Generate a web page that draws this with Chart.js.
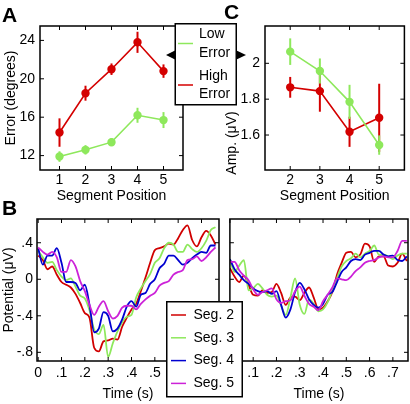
<!DOCTYPE html>
<html><head><meta charset="utf-8">
<script src="https://cdn.jsdelivr.net/npm/chart.js@4.4.1/dist/chart.umd.min.js"></script>
<style>
html,body{margin:0;padding:0;background:#fff;width:410px;height:404px;overflow:hidden}
canvas{position:absolute}
</style></head><body>
<canvas id="cA" width="190" height="206" style="left:0;top:0"></canvas>
<canvas id="cC" width="190" height="206" style="left:220px;top:0"></canvas>
<canvas id="cBL" width="222" height="204" style="left:0;top:200px"></canvas>
<canvas id="cBR" width="188" height="204" style="left:222px;top:200px"></canvas>
<canvas id="ov" width="410" height="404" style="left:0;top:0;pointer-events:none"></canvas>
<script>
// ---------- Panel A : error vs segment position ----------
const segA = [1, 2, 3, 4, 5];
const lowA = [11.9, 12.6, 13.4, 16.2, 15.7];
const lowAErr = [0.55, 0.49, 0.43, 0.78, 0.83];
const highA = [14.4, 18.5, 21.0, 23.8, 20.8];
const highAErr = [1.48, 0.78, 0.6, 1.1, 0.7];
const yTicksA = [12, 16, 20, 24];
const groupLabels = ['Low Error', 'High Error'];

// ---------- Panel C : amplitude vs segment position ----------
const segC = [2, 3, 4, 5];
const lowC = [2.065, 1.957, 1.785, 1.544];
const lowCErr = [0.074, 0.07, 0.095, 0.054];
const highC = [1.866, 1.845, 1.618, 1.696];
const highCErr = [0.058, 0.115, 0.084, 0.19];
const yTicksC = [1.6, 1.8, 2];
const yTickLabelsC = ['1.6', '1.8', '2'];

// ---------- Panel B : waveforms ----------
const tB = [0,0.02,0.04,0.06,0.08,0.10,0.12,0.14,0.16,0.18,0.20,0.22,0.24,0.26,0.28,0.30,0.32,0.34,0.36,0.38,0.40,0.42,0.44,0.46,0.48,0.50,0.52,0.54,0.56,0.58,0.60,0.62,0.64,0.66,0.68,0.70,0.72,0.74,0.76];
const seg2L = [0.26,0.21,0.11,0.14,0.05,-0.03,-0.06,-0.09,-0.16,-0.26,-0.37,-0.42,-0.75,-0.79,-0.68,-0.67,-0.65,-0.66,-0.52,-0.42,-0.33,-0.27,-0.13,0.02,0.18,0.32,0.34,0.36,0.39,0.38,0.45,0.54,0.59,0.43,0.36,0.46,0.53,0.48,0.38];
const seg3L = [0.31,0.24,0.18,0.19,0.10,0.03,-0.01,0.01,-0.08,-0.18,-0.21,-0.34,-0.55,-0.60,-0.50,-0.85,-0.70,-0.57,-0.47,-0.41,-0.39,-0.20,-0.10,-0.02,0.06,0.18,0.23,0.34,0.40,0.38,0.30,0.30,0.38,0.33,0.30,0.34,0.42,0.54,0.57];
const seg4L = [0.34,0.16,0.26,0.26,0.34,0.18,-0.03,-0.03,-0.04,-0.12,-0.06,-0.28,-0.58,-0.54,-0.36,-0.40,-0.57,-0.54,-0.44,-0.30,-0.24,-0.30,-0.17,-0.15,-0.05,0.00,0.12,0.17,0.26,0.26,0.21,0.16,0.18,0.23,0.27,0.30,0.29,0.37,0.37];
const seg5L = [0.35,0.30,0.27,0.30,0.24,0.08,0.08,0.21,0.14,-0.02,-0.13,-0.28,-0.39,-0.30,-0.24,-0.35,-0.43,-0.40,-0.31,-0.29,-0.29,-0.33,-0.27,-0.22,-0.18,-0.15,-0.07,-0.04,-0.02,0.05,0.08,0.10,0.21,0.22,0.25,0.20,0.24,0.30,0.35];
const seg2R = [0.12,0.03,-0.03,0.04,-0.06,-0.17,-0.18,-0.12,-0.15,-0.14,-0.05,-0.15,-0.28,-0.20,-0.19,-0.23,-0.15,-0.09,-0.20,-0.33,-0.31,-0.24,-0.14,0.05,0.18,0.29,0.30,0.24,0.27,0.39,0.36,0.19,0.25,0.25,0.15,0.14,0.18,0.28,0.20];
const seg3R = [0.22,0.08,0.15,0.21,-0.12,-0.10,-0.05,-0.10,-0.17,-0.19,-0.18,-0.29,-0.39,-0.20,0.01,-0.28,-0.38,-0.22,-0.27,-0.35,-0.33,-0.25,-0.12,0.01,0.14,0.20,0.23,0.28,0.24,0.28,0.31,0.37,0.27,0.27,0.25,0.22,0.26,0.28,0.28];
const seg4R = [0.22,0.11,0.05,-0.01,-0.05,-0.10,-0.13,-0.14,-0.13,-0.16,-0.13,-0.28,-0.42,-0.33,-0.14,-0.04,-0.11,-0.22,-0.28,-0.31,-0.27,-0.17,-0.14,-0.03,0.08,0.13,0.20,0.22,0.21,0.27,0.29,0.31,0.31,0.27,0.25,0.26,0.21,0.20,0.25];
const seg5R = [0.19,0.19,0.10,0.04,-0.01,-0.11,-0.17,-0.14,-0.12,-0.10,-0.22,-0.26,-0.24,-0.23,-0.13,-0.08,-0.18,-0.27,-0.30,-0.34,-0.24,-0.17,-0.09,0.01,0.00,-0.01,0.03,0.09,0.13,0.18,0.20,0.21,0.24,0.25,0.24,0.24,0.31,0.42,0.42];
const segLabels = ['Seg. 2', 'Seg. 3', 'Seg. 4', 'Seg. 5'];
const yTicksB = [-0.8, -0.4, 0, 0.4];
const yTickLabelsB = ['-.8', '-.4', '0', '.4'];
const xTicksB = [0, 0.1, 0.2, 0.3, 0.4, 0.5, 0.6, 0.7];
const xTickLabelsB = ['0', '.1', '.2', '.3', '.4', '.5', '.6', '.7'];

// ---------- styling ----------
const FONT = "'Liberation Sans', Arial, Helvetica, sans-serif";
Chart.defaults.font.family = FONT;
Chart.defaults.font.size = 14;
Chart.defaults.color = '#000';
Chart.defaults.animation = false;
const GREEN = '#8ee85c', RED = '#d40000';
const segColors = ['#d00000', '#8ee85c', '#0000d0', '#cc22d8'];

const pts = (xs, ys) => xs.map((x, i) => ({x: x, y: ys[i]}));

const errPlugin = {
  id: 'errbars',
  beforeDatasetDraw(chart, args) {
    const ds = chart.data.datasets[args.index];
    if (!ds.errors) return;
    const ctx = chart.ctx, xs = chart.scales.x, ys = chart.scales.y;
    ctx.save();
    ctx.strokeStyle = ds.borderColor; ctx.lineWidth = 2;
    ds.data.forEach((p, j) => {
      const x = xs.getPixelForValue(p.x);
      ctx.beginPath();
      ctx.moveTo(x, ys.getPixelForValue(p.y - ds.errors[j]));
      ctx.lineTo(x, ys.getPixelForValue(p.y + ds.errors[j]));
      ctx.stroke();
    });
    ctx.restore();
  }
};

const boxPlugin = {
  id: 'box',
  afterDraw(chart, args, opts) {
    const ctx = chart.ctx, a = chart.chartArea, xs = chart.scales.x, ys = chart.scales.y;
    const L = 4;
    ctx.save();
    ctx.strokeStyle = '#000'; ctx.lineWidth = 1;
    ctx.beginPath();
    (opts.xTicks || []).forEach(v => {
      const x = xs.getPixelForValue(v);
      ctx.moveTo(x, a.bottom); ctx.lineTo(x, a.bottom - L);
      ctx.moveTo(x, a.top); ctx.lineTo(x, a.top + L);
    });
    (opts.yTicks || []).forEach(v => {
      const y = ys.getPixelForValue(v);
      ctx.moveTo(a.left, y); ctx.lineTo(a.left + L, y);
      ctx.moveTo(a.right, y); ctx.lineTo(a.right - L, y);
    });
    ctx.stroke();
    ctx.lineWidth = 1.5;
    ctx.strokeRect(a.left, a.top, a.right - a.left, a.bottom - a.top);
    ctx.restore();
  }
};

const noGrid = { display: false, drawTicks: false, tickLength: 0 };

function markerDataset(label, xs, ys, errs, color) {
  return {
    label: label, data: pts(xs, ys), errors: errs,
    borderColor: color, backgroundColor: color,
    pointBackgroundColor: color, pointBorderColor: color,
    pointRadius: 3.4, borderWidth: 1.6, tension: 0
  };
}

function segChart(id, xs, ys, yT, yL, xMin, xMax, yMin, yMax, yW, yPad, padRight, yTitle) {
  return new Chart(document.getElementById(id), {
    type: 'line',
    data: { datasets: [
      markerDataset(groupLabels[0], xs, ys[0], ys[1], GREEN),
      markerDataset(groupLabels[1], xs, ys[2], ys[3], RED)
    ]},
    options: {
      responsive: false,
      layout: { padding: { top: 26, right: padRight, left: 0, bottom: 0 } },
      plugins: { legend: { display: false }, tooltip: { enabled: false }, box: { xTicks: xs, yTicks: yT } },
      scales: {
        x: {
          type: 'linear', min: xMin, max: xMax,
          afterBuildTicks: s => { s.ticks = xs.map(v => ({value: v})); },
          afterFit: s => { s.height = 36; },
          grid: noGrid, border: { display: false },
          ticks: { padding: 2, callback: v => String(v) },
          title: { display: true, text: 'Segment Position', font: { size: 14 }, padding: { top: 0, bottom: 1 } }
        },
        y: {
          type: 'linear', min: yMin, max: yMax,
          afterBuildTicks: s => { s.ticks = yT.map(v => ({value: v})); },
          afterFit: s => { s.width = yW; },
          grid: noGrid, border: { display: false },
          ticks: { padding: yPad, callback: (v, i) => yL[i] },
          title: { display: yTitle !== null, text: yTitle || '', font: { size: 14 }, padding: { top: 3, bottom: 0 } }
        }
      }
    },
    plugins: [errPlugin, boxPlugin]
  });
}

segChart('cA', segA, [lowA, lowAErr, highA, highAErr], yTicksA, yTicksA.map(String),
  0.25, 5.75, 10.5, 25.5, 40, 5, 7, 'Error (degrees)');
segChart('cC', segC, [lowC, lowCErr, highC, highCErr], yTicksC, yTickLabelsC,
  1.15, 5.85, 1.405, 2.208, 45, 5, 2, null);

function waveChart(id, series, xMin, xMax, padLeft, padRight, showY) {
  const order = [4, 3, 2, 1];
  return new Chart(document.getElementById(id), {
    type: 'line',
    data: { datasets: series.map((s, i) => ({
      label: segLabels[i], data: pts(tB, s), order: order[i],
      borderColor: segColors[i], borderWidth: 1.8, pointRadius: 0,
      cubicInterpolationMode: 'monotone', fill: false
    })) },
    options: {
      responsive: false,
      layout: { padding: { top: 19, right: padRight, left: padLeft, bottom: 0 } },
      plugins: { legend: { display: false }, tooltip: { enabled: false }, box: { xTicks: xTicksB, yTicks: yTicksB } },
      scales: {
        x: {
          type: 'linear', min: xMin, max: xMax,
          afterBuildTicks: s => { s.ticks = xTicksB.map(v => ({value: v})); },
          afterFit: s => { s.height = 43; },
          grid: noGrid, border: { display: false },
          ticks: { padding: 4, callback: (v, i) => xTickLabelsB[i] },
          title: { display: true, text: 'Time (s)', font: { size: 14 }, padding: { top: 0, bottom: 1.3 } }
        },
        y: {
          type: 'linear', min: -0.895, max: 0.66, display: showY,
          afterBuildTicks: s => { s.ticks = yTicksB.map(v => ({value: v})); },
          afterFit: s => { s.width = showY ? 37 : 0; },
          grid: noGrid, border: { display: false },
          ticks: { padding: 4, callback: (v, i) => yTickLabelsB[i] },
          title: { display: true, text: 'Potential (\u03bcV)', font: { size: 14 }, padding: { top: 1, bottom: 0 } }
        }
      }
    },
    plugins: [boxPlugin]
  });
}

waveChart('cBL', [seg2L, seg3L, seg4L, seg5L], -0.005, 0.775, 0, 3, true);
waveChart('cBR', [seg2R, seg3R, seg4R, seg5R], 0, 0.765, 4, 2, false);

// ---------- overlay: panel letters, legends, C y-title ----------
const o = document.getElementById('ov').getContext('2d');
o.fillStyle = '#000';
o.font = 'bold 21px ' + FONT;
o.textBaseline = 'alphabetic';
o.fillText('A', 2, 22);
o.fillText('B', 2, 215);
o.fillText('C', 224, 19);

o.font = '14px ' + FONT;
o.textBaseline = 'middle';
// C y title
o.save();
o.translate(232, 143);
o.rotate(-Math.PI / 2);
o.textAlign = 'center';
o.fillText('Amp. (\u03bcV)', 0, 0);
o.restore();

// legend A
o.fillStyle = '#fff';
o.fillRect(175, 23.5, 61.5, 81.5);
o.strokeStyle = '#000'; o.lineWidth = 1.5;
o.strokeRect(175.25, 23.75, 61, 81);
o.fillStyle = '#000';
o.beginPath(); o.moveTo(175, 50.5); o.lineTo(175, 59.5); o.lineTo(166, 55); o.closePath(); o.fill();
o.beginPath(); o.moveTo(236.5, 50.5); o.lineTo(236.5, 59.5); o.lineTo(246, 55); o.closePath(); o.fill();
const legAColors = [GREEN, RED];
groupLabels.forEach((lab, i) => {
  const y0 = 34.5 + i * 41.5;
  const words = lab.split(' ');
  o.strokeStyle = legAColors[i]; o.lineWidth = 1.5;
  o.beginPath(); o.moveTo(178, y0 + 9); o.lineTo(193, y0 + 9); o.stroke();
  o.fillStyle = '#000';
  o.fillText(words[0], 199, y0);
  o.fillText(words[1], 199, y0 + 18.5);
});

// legend B
o.fillStyle = '#fff';
o.fillRect(166.5, 301.5, 76, 95.5);
o.strokeStyle = '#000'; o.lineWidth = 1.5;
o.strokeRect(166.75, 301.75, 75.5, 95);
segLabels.forEach((lab, i) => {
  const y = 315 + i * 22.8;
  o.strokeStyle = segColors[i]; o.lineWidth = 1.5;
  o.beginPath(); o.moveTo(171, y); o.lineTo(186, y); o.stroke();
  o.fillStyle = '#000';
  o.fillText(lab, 193.5, y);
});
</script>
</body></html>
